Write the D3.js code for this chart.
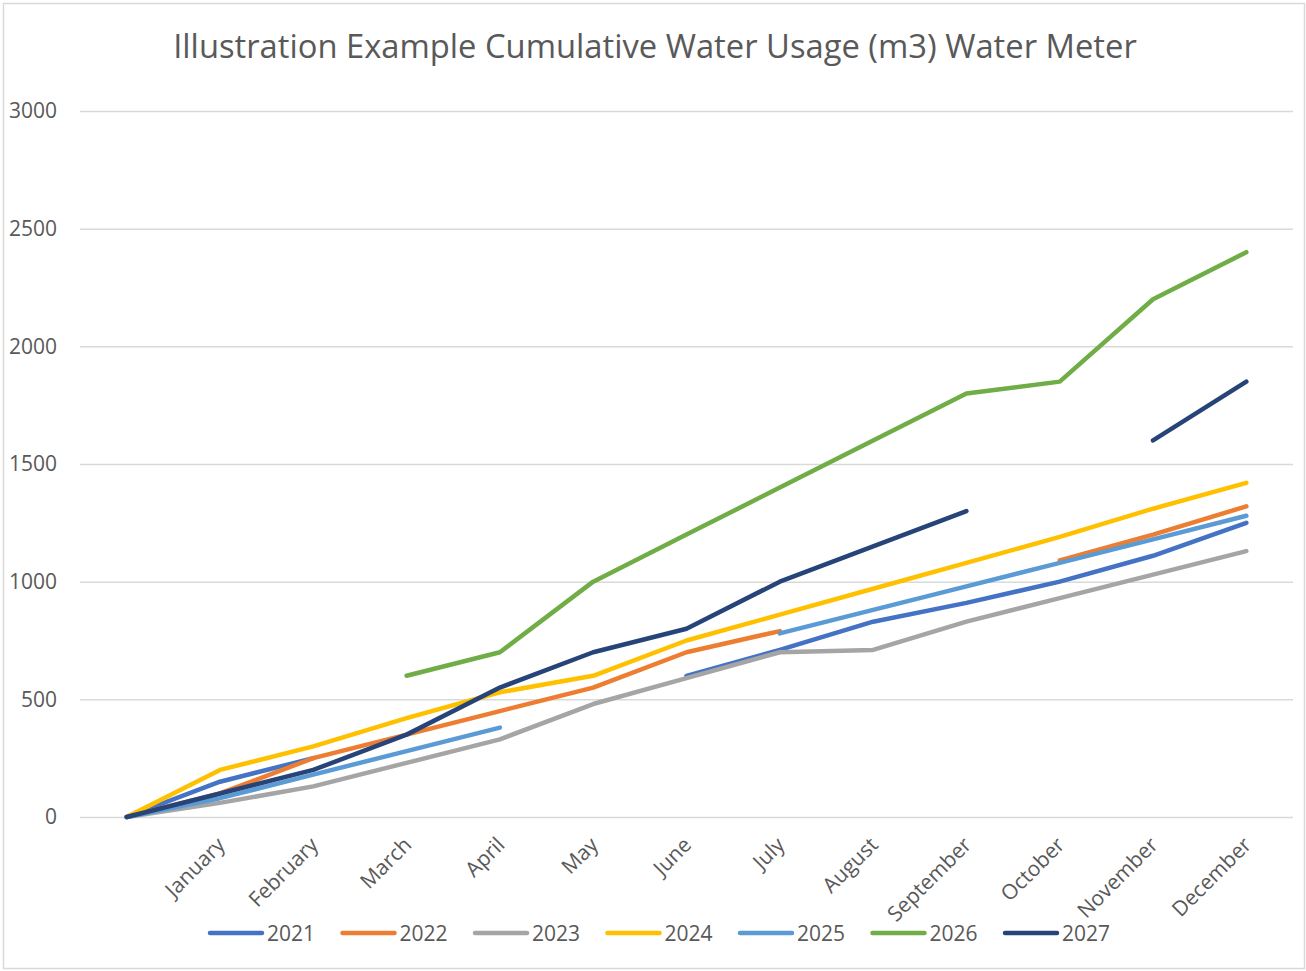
<!DOCTYPE html>
<html>
<head>
<meta charset="utf-8">
<script src="https://cdn.jsdelivr.net/npm/d3@7"></script>
<style>
  body { margin: 0; background: #fff; }
  svg text { font-family: "Open Sans", "Noto Sans", sans-serif; fill: #595959; }
</style>
</head>
<body>
<div class="chart"></div>
<script>
// data (null = no reading)
var months = ["", "January", "February", "March", "April", "May", "June", "July",
              "August", "September", "October", "November", "December"];
var years = ["2021", "2022", "2023", "2024", "2025", "2026", "2027"];
var colors = ["#4472C4", "#ED7D31", "#A5A5A5", "#FFC000", "#5B9BD5", "#70AD47", "#264478"];

var s2021 = [0, 150, 250, null, null, null, 600, 710, 830, 910, 1000, 1110, 1250];
var s2022 = [0, 100, 250, 350, 450, 550, 700, 790, null, null, 1090, 1200, 1320];
var s2023 = [0, 60, 130, 230, 330, 480, 590, 700, 710, 830, 930, 1030, 1130];
var s2024 = [0, 200, 300, 420, 530, 600, 750, 860, 970, 1080, 1190, 1310, 1420];
var s2025 = [0, 80, 180, 280, 380, null, null, 780, 880, 980, 1080, 1180, 1280];
var s2026 = [null, null, null, 600, 700, 1000, 1200, 1400, 1600, 1800, 1850, 2200, 2400];
var s2027 = [0, 100, 200, 350, 550, 700, 800, 1000, 1150, 1300, null, 1600, 1850];
var series = [s2021, s2022, s2023, s2024, s2025, s2026, s2027];

var yTicks = [0, 500, 1000, 1500, 2000, 2500, 3000];

var W = 1306, H = 971;
var svg = d3.select("div.chart").append("svg")
    .attr("width", W)
    .attr("height", H);

// chart border
svg.append("rect")
    .attr("x", 3.5).attr("y", 3.5)
    .attr("width", W - 5).attr("height", H - 6)
    .attr("fill", "none")
    .attr("stroke", "#D9D9D9")
    .attr("stroke-width", 1.5);

var x = d3.scalePoint()
    .domain(d3.range(months.length))
    .range([80, 1293])
    .padding(0.5);

var y = d3.scaleLinear()
    .domain([0, 3000])
    .range([817, 111]);

// title, shrunk/grown to the reference width
var title = svg.append("text")
    .attr("x", 655)
    .attr("y", 58)
    .attr("text-anchor", "middle")
    .style("font-size", "29px")
    .text("Illustration Example Cumulative Water Usage (m3) Water Meter");
var tw = title.node().getComputedTextLength();
title.style("font-size", (29 * 964 / tw) + "px");

// gridlines + y labels
var yAxis = d3.axisLeft(y)
    .tickValues(yTicks)
    .tickSize(-(1293 - 80))
    .tickPadding(23)
    .tickFormat(d3.format("d"));

var gy = svg.append("g")
    .attr("transform", "translate(80,0)")
    .call(yAxis);
gy.select(".domain").remove();
gy.selectAll(".tick line")
    .attr("stroke", "#D9D9D9")
    .attr("stroke-width", 1.5);
gy.selectAll(".tick text")
    .attr("font-size", 21)
    .attr("font-family", null);

// rotated month labels
svg.append("g")
    .selectAll("text")
    .data(months)
    .enter()
    .append("text")
    .attr("text-anchor", "end")
    .attr("transform", function(d, i) { return "translate(" + (x(i) + 1) + ",841) rotate(-45)"; })
    .attr("dy", "0.35em")
    .style("font-size", "21px")
    .text(function(d) { return d; });

// lines, drawn 2021 first so 2027 ends up on top
var line = d3.line()
    .defined(function(d) { return d != null; })
    .x(function(d, i) { return x(i); })
    .y(function(d) { return y(d); });

svg.append("g")
    .selectAll("path")
    .data(series)
    .enter()
    .append("path")
    .attr("d", line)
    .attr("fill", "none")
    .attr("stroke", function(d, i) { return colors[i]; })
    .attr("stroke-width", 4.5)
    .attr("stroke-linecap", "round")
    .attr("stroke-linejoin", "round");

// legend
var legend = svg.append("g")
    .selectAll("g")
    .data(years)
    .enter()
    .append("g")
    .attr("transform", function(d, i) { return "translate(" + (208 + i * 132.5) + ",933)"; });

legend.append("line")
    .attr("x1", 2).attr("x2", 54)
    .attr("y1", 0).attr("y2", 0)
    .attr("stroke", function(d, i) { return colors[i]; })
    .attr("stroke-width", 4.5)
    .attr("stroke-linecap", "round");

legend.append("text")
    .attr("x", 59)
    .attr("y", 8)
    .style("font-size", "21px")
    .text(function(d) { return d; });
</script>
</body>
</html>
